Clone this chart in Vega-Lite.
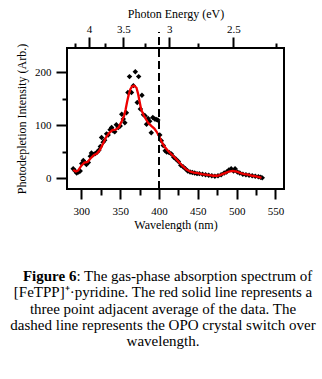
{
  "$schema": "https://vega.github.io/schema/vega-lite/v6.json",
  "background": "white",
  "padding": {"left": 10, "top": 6, "right": 5, "bottom": 5},
  "config": {
    "font": "Liberation Serif",
    "view": {"stroke": null},
    "text": {"font": "Liberation Serif"},
    "style": {"guide-label": {"font": "Liberation Serif"}, "guide-title": {"font": "Liberation Serif"}},
    "axis": {"labelFont": "Liberation Serif", "titleFont": "Liberation Serif", "labelFontSize": 11, "titleFontSize": 12, "titleFontWeight": "normal", "labelColor": "black", "titleColor": "black", "tickColor": "black", "tickWidth": 2, "grid": false, "domain": false}
  },
  "datasets": {
    "pts": [
      {"wl":289.5,"v":18},{"wl":292,"v":14},{"wl":294,"v":10},{"wl":296.5,"v":12},{"wl":298.5,"v":14},{"wl":300.5,"v":28},{"wl":302.5,"v":34},{"wl":304.5,"v":30},{"wl":306.5,"v":26},{"wl":309,"v":30},{"wl":311.5,"v":42},{"wl":313,"v":48},{"wl":315.5,"v":45},{"wl":318,"v":47},{"wl":320.5,"v":50},{"wl":322.5,"v":53},{"wl":324.5,"v":60},{"wl":326,"v":77},{"wl":328,"v":68},{"wl":330,"v":72},{"wl":332.5,"v":84},{"wl":334.5,"v":82},{"wl":337,"v":92},{"wl":339,"v":96},{"wl":341,"v":90},{"wl":343,"v":88},{"wl":345,"v":101},{"wl":347.5,"v":96},{"wl":350,"v":99},{"wl":352,"v":121},{"wl":354,"v":112},{"wl":356,"v":105},{"wl":358,"v":124},{"wl":360,"v":162},{"wl":362,"v":192},{"wl":364.5,"v":162},{"wl":367,"v":175},{"wl":369.5,"v":201},{"wl":372,"v":143},{"wl":373.8,"v":192},{"wl":376,"v":131},{"wl":378,"v":157},{"wl":380,"v":120},{"wl":382,"v":118},{"wl":384,"v":102},{"wl":386,"v":113},{"wl":388,"v":108},{"wl":390,"v":86},{"wl":392,"v":115},{"wl":394.5,"v":112},{"wl":396.5,"v":111},{"wl":398.5,"v":110},{"wl":401,"v":82},{"wl":403,"v":71},{"wl":405.5,"v":62},{"wl":408,"v":52},{"wl":410,"v":50},{"wl":413,"v":49},{"wl":416,"v":46},{"wl":419,"v":40},{"wl":422,"v":36},{"wl":425,"v":32},{"wl":428,"v":25},{"wl":431,"v":22},{"wl":434,"v":18},{"wl":437,"v":14},{"wl":440,"v":12},{"wl":443,"v":11},{"wl":446,"v":10},{"wl":449,"v":9},{"wl":452,"v":9},{"wl":456,"v":8},{"wl":460,"v":7},{"wl":464,"v":6},{"wl":468,"v":5},{"wl":472,"v":4},{"wl":476,"v":5},{"wl":480,"v":7},{"wl":484,"v":10},{"wl":487,"v":12},{"wl":490,"v":16},{"wl":493,"v":18},{"wl":496,"v":14},{"wl":498,"v":18},{"wl":501,"v":12},{"wl":504,"v":10},{"wl":508,"v":8},{"wl":512,"v":7},{"wl":516,"v":6},{"wl":520,"v":5},{"wl":524,"v":4},{"wl":528,"v":3},{"wl":531,"v":2},{"wl":533,"v":1}
    ],
    "avg": [
      {"wl":289.5,"v":16},{"wl":293,"v":13},{"wl":296,"v":15},{"wl":300,"v":24},{"wl":304,"v":30},{"wl":308,"v":31},{"wl":312,"v":38},{"wl":316,"v":44},{"wl":320,"v":47},{"wl":324,"v":54},{"wl":328,"v":66},{"wl":332,"v":78},{"wl":336,"v":86},{"wl":340,"v":91},{"wl":344,"v":92},{"wl":348,"v":96},{"wl":352,"v":108},{"wl":355,"v":118},{"wl":357,"v":130},{"wl":359,"v":145},{"wl":361,"v":158},{"wl":363,"v":168},{"wl":365,"v":173},{"wl":368,"v":175},{"wl":371,"v":171},{"wl":373,"v":160},{"wl":375,"v":145},{"wl":377,"v":130},{"wl":380,"v":120},{"wl":383,"v":112},{"wl":386,"v":105},{"wl":390,"v":99},{"wl":394,"v":94},{"wl":397,"v":88},{"wl":400,"v":80},{"wl":403,"v":70},{"wl":407,"v":60},{"wl":411,"v":53},{"wl":415,"v":47},{"wl":420,"v":40},{"wl":425,"v":32},{"wl":430,"v":24},{"wl":435,"v":17},{"wl":440,"v":13},{"wl":445,"v":11},{"wl":450,"v":10},{"wl":455,"v":8},{"wl":460,"v":7},{"wl":465,"v":6},{"wl":470,"v":5},{"wl":475,"v":5},{"wl":480,"v":7},{"wl":485,"v":10},{"wl":490,"v":13},{"wl":495,"v":14},{"wl":500,"v":13},{"wl":505,"v":10},{"wl":510,"v":8},{"wl":515,"v":7},{"wl":520,"v":5},{"wl":525,"v":4},{"wl":530,"v":2},{"wl":532,"v":1}
    ],
    "switch": [{"wl": 400}],
    "cap": [
      {"line": 0, "part": "b", "text": "Figure 6"},
      {"line": 0, "part": "r", "text": ": The gas-phase absorption spectrum of"},
      {"line": 1, "part": "c", "text": "[FeTPP]⁺·pyridine. The red solid line represents a"},
      {"line": 2, "part": "c", "text": "three point adjacent average of the data. The"},
      {"line": 3, "part": "c", "text": "dashed line represents the OPO crystal switch over"},
      {"line": 4, "part": "c", "text": "wavelength."}
    ]
  },
  "spacing": 38,
  "vconcat": [
    {
      "width": 217,
      "height": 141,
      "view": {"stroke": "black", "strokeWidth": 2},
      "resolve": {"axis": {"x": "independent", "y": "independent"}},
      "layer": [
        {
          "data": {"name": "pts"},
          "mark": {"type": "point", "shape": "diamond", "filled": true, "color": "black", "size": 30, "opacity": 1},
          "encoding": {
            "x": {"field": "wl", "type": "quantitative",
              "scale": {"domain": [281.5, 561], "nice": false, "zero": false},
              "axis": {"orient": "bottom", "values": [300,325,350,375,400,425,450,475,500,525,550],
                "labelExpr": "datum.value % 50 === 0 ? datum.label : ''",
                "tickSize": {"condition": {"test": "datum.value % 50 === 0", "value": 10}, "value": 6},
                "labelFont": "Liberation Serif, Times New Roman, serif", "titleFont": "Liberation Serif, Times New Roman, serif", "labelFontSize": 11, "titleFontSize": 12,
                "labelPadding": 6, "title": "Wavelength (nm)", "titlePadding": 3}},
            "y": {"field": "v", "type": "quantitative",
              "scale": {"domain": [-20, 246], "nice": false, "zero": false},
              "axis": {"orient": "left", "values": [0,50,100,150,200],
                "labelExpr": "datum.value % 100 === 0 ? datum.label : ''",
                "tickSize": {"condition": {"test": "datum.value % 100 === 0", "value": 11}, "value": 5},
                "labelFont": "Liberation Serif, Times New Roman, serif", "titleFont": "Liberation Serif, Times New Roman, serif", "labelFontSize": 11, "titleFontSize": 12,
                "labelPadding": 5, "title": "Photodepletion Intensity (Arb.)", "titlePadding": 6}}
          }
        },
        {
          "data": {"name": "avg"},
          "mark": {"type": "line", "color": "#ee0000", "strokeWidth": 2.3},
          "encoding": {
            "x": {"field": "wl", "type": "quantitative",
              "axis": {"orient": "top", "values": [291.73,309.96,330.62,354.24,381.49,413.28,450.85,495.94,551.04],
                "labelExpr": "abs(2*1239.84/datum.value - round(2*1239.84/datum.value)) < 0.01 ? format(1239.84/datum.value, '.1~f') : ''",
                "tickSize": {"condition": {"test": "abs(2*1239.84/datum.value - round(2*1239.84/datum.value)) < 0.01", "value": 11}, "value": 5},
                "labelFont": "Liberation Serif, Times New Roman, serif", "titleFont": "Liberation Serif, Times New Roman, serif", "labelFontSize": 11, "titleFontSize": 12,
                "labelPadding": 3, "title": "Photon Energy (eV)", "titlePadding": 3}},
            "y": {"field": "v", "type": "quantitative", "axis": null}
          }
        },
        {
          "data": {"name": "switch"},
          "mark": {"type": "rule", "color": "black", "strokeWidth": 2, "strokeDash": [8, 4], "clip": false},
          "encoding": {
            "x": {"field": "wl", "type": "quantitative", "axis": null},
            "y": {"datum": -20, "type": "quantitative", "axis": null},
            "y2": {"datum": 276}
          }
        }
      ]
    },
    {
      "width": 192,
      "height": 65,
      "view": {"stroke": null},
      "data": {"name": "cap"},
      "encoding": {
        "y": {"field": "line", "type": "quantitative", "scale": {"domain": [0, 4], "reverse": true, "nice": false, "zero": false}, "axis": null},
        "text": {"field": "text"}
      },
      "layer": [
        {
          "transform": [{"filter": "datum.part === 'c'"}],
          "mark": {"type": "text", "font": "Liberation Serif", "fontSize": 15, "align": "center", "baseline": "middle", "color": "black"},
          "encoding": {"x": {"datum": 0.5, "type": "quantitative", "scale": {"domain": [0, 1]}, "axis": null}}
        },
        {
          "transform": [{"filter": "datum.part === 'b'"}],
          "mark": {"type": "text", "font": "Liberation Serif", "fontSize": 15, "fontWeight": "bold", "align": "right", "baseline": "middle", "color": "black"},
          "encoding": {"x": {"datum": 0.049, "type": "quantitative", "axis": null}}
        },
        {
          "transform": [{"filter": "datum.part === 'r'"}],
          "mark": {"type": "text", "font": "Liberation Serif", "fontSize": 15, "align": "left", "baseline": "middle", "color": "black"},
          "encoding": {"x": {"datum": 0.049, "type": "quantitative", "axis": null}}
        }
      ]
    }
  ]
}
